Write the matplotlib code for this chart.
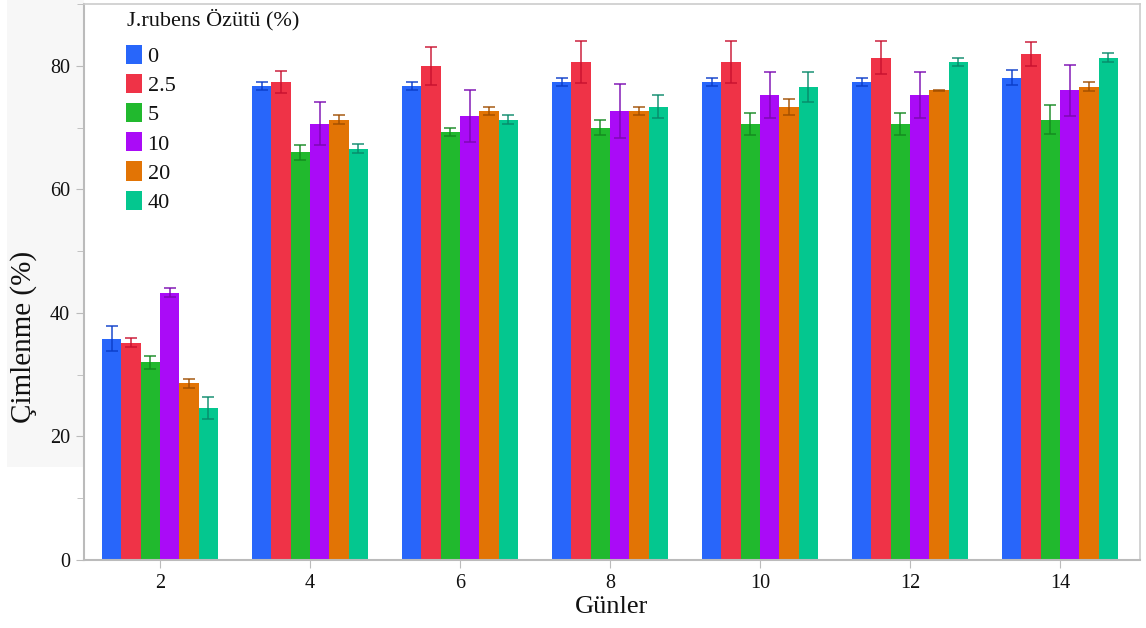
import matplotlib
matplotlib.use("Agg")
import matplotlib.pyplot as plt
import numpy as np
from matplotlib.patches import Rectangle
from matplotlib.ticker import MultipleLocator

plt.rcParams['font.family'] = ['Liberation Serif', 'DejaVu Serif']

days = ['2', '4', '6', '8', '10', '12', '14']
series = ['0', '2.5', '5', '10', '20', '40']

v0   = [35.8, 76.7, 76.7, 77.4, 77.4, 77.4, 78.1]
v25  = [35.2, 77.4, 80.0, 80.6, 80.6, 81.3, 81.9]
v5   = [32.0, 66.0, 69.3, 70.0, 70.6, 70.6, 71.3]
v10  = [43.3, 70.6, 71.9, 72.7, 75.3, 75.3, 76.0]
v20  = [28.6, 71.3, 72.7, 72.7, 73.4, 76.0, 76.6]
v40  = [24.6, 66.6, 71.3, 73.4, 76.6, 80.6, 81.3]

e0   = [2.0, 0.7, 0.7, 0.7, 0.7, 0.7, 1.2]
e25  = [0.7, 1.8, 3.1, 3.4, 3.4, 2.7, 2.0]
e5   = [1.1, 1.2, 0.7, 1.2, 1.8, 1.8, 2.4]
e10  = [0.7, 3.5, 4.2, 4.4, 3.7, 3.7, 4.2]
e20  = [0.7, 0.7, 0.7, 0.7, 1.3, 0.1, 0.7]
e40  = [1.8, 0.7, 0.7, 1.8, 2.4, 0.7, 0.7]

values = [v0, v25, v5, v10, v20, v40]
errors = [e0, e25, e5, e10, e20, e40]
colors = ['#2866FA', '#EF3347', '#21B92E', '#AA0BF7', '#E27405', '#04C78F']
ecolors = ['#0A3CC8', '#C8102E', '#13881F', '#7A08B0', '#A04E00', '#08896A']

W, H = 1146, 628
fig = plt.figure(figsize=(W/100, H/100), dpi=100)
panel = Rectangle((7/W, 1-467/H), 77/W, 467/H,
                  transform=fig.transFigure, facecolor='#F7F7F7',
                  edgecolor='none', zorder=-10)
fig.add_artist(panel)
ax = fig.add_axes([84/W, 1-560/H, (1140-84)/W, (560-4)/H])
ax.set_facecolor('white')

x = np.arange(len(days))
n = len(series)
group_w = 0.775
bw = group_w / n
handles = []
for i, (vals, errs) in enumerate(zip(values, errors)):
    pos = x - group_w/2 + bw*(i+0.5)
    b = ax.bar(pos, vals, width=bw, color=colors[i], edgecolor='none', label=series[i], zorder=2)
    ax.errorbar(pos, vals, yerr=errs, fmt='none', ecolor=ecolors[i], elinewidth=1.2,
                capsize=4.5, capthick=1.2, alpha=0.85, zorder=3)
    handles.append(b)

ax.set_xlim(-0.507, 6.533)
ax.set_ylim(0, 90)
ax.set_xticks(x)
ax.set_xticklabels(days)
ax.set_yticks([0, 20, 40, 60, 80])
ax.yaxis.set_minor_locator(MultipleLocator(10))

for s in ['left', 'bottom']:
    ax.spines[s].set_color('#BBBBBB')
    ax.spines[s].set_linewidth(1.5)
for s in ['top', 'right']:
    ax.spines[s].set_color('#CCCCCC')
    ax.spines[s].set_linewidth(1.2)

ax.tick_params(axis='both', which='major', length=6, color='#BBBBBB', labelsize=14.5,
               labelcolor='#111111', pad=4)
ax.tick_params(axis='y', which='minor', length=5, color='#BBBBBB')

ax.set_xlabel('Günler', fontsize=19, color='#111111', labelpad=2)
fig.text(24/W, 1-337/H, 'Çimlenme (%)', rotation=90, fontsize=21, color='#111111',
         ha='center', va='center')

ax_w, ax_h = 1140-84, 560-4
ax.text((127-84)/ax_w, 1-(20-4)/ax_h, 'J.rubens Özütü (%)', transform=ax.transAxes,
        fontsize=16, color='#111111', ha='left', va='center')

leg = ax.legend(handles=handles, labels=series,
                loc='upper left', bbox_to_anchor=((126-84)/ax_w, 1-(45-4)/ax_h), frameon=False,
                fontsize=16, handlelength=0.72, handleheight=0.95,
                handletextpad=0.25, labelspacing=0.31, alignment='left',
                borderaxespad=0, borderpad=0)
for t in leg.get_texts():
    t.set_color('#111111')

fig.savefig('out.png', dpi=100)
